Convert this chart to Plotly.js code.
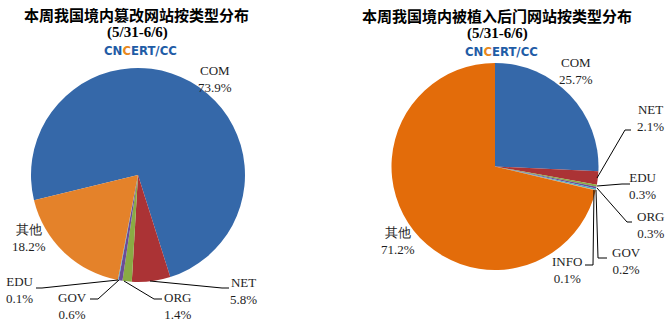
<!DOCTYPE html>
<html>
<head>
<meta charset="utf-8">
<script src="https://cdn.plot.ly/plotly-3.0.1.min.js"></script>
<style>html,body{margin:0;padding:0;background:#fff;}#chart{width:671px;height:325px;}</style>
</head>
<body>
<div id="chart"></div>
<script>
// ---- data ----
var leftTitle = "本周我国境内篡改网站按类型分布";
var rightTitle = "本周我国境内被植入后门网站按类型分布";
var period = "(5/31-6/6)";
var leftLabels = ["COM", "NET", "ORG", "GOV", "EDU", "其他"];
var leftValues = [73.9, 5.8, 1.4, 0.6, 0.1, 18.2];
var rightLabels = ["COM", "NET", "EDU", "ORG", "GOV", "INFO", "其他"];
var rightValues = [25.7, 2.1, 0.3, 0.3, 0.2, 0.1, 71.2];

// ---- styles / layout positions ----
var W = 671, H = 325;
function px(x){ return x / W; }
function py(y){ return 1 - y / H; }
var leftColors = ["#3568a9", "#ab3335", "#8aab44", "#6b4c98", "#4bacc6", "#e4822a"];
var rightColors = ["#3568a9", "#ab3335", "#8aab44", "#6b4c98", "#4bacc6", "#f79646", "#e36c0a"];
// label centres (pixels)
var leftLabelPos = [[215,79],[243,291],[177,306],[72,306],[20,290],[29,238]];
var rightLabelPos = [[576,71],[650,118],[643,186],[650,225],[626,261],[567,270],[398,241]];
// leader lines (pixels)
var leftLines = [
  null,
  [[150,281],[222,288],[229,288]],
  [[124,281],[154,299],[162,299]],
  [[119,280],[98,299],[90,299]],
  [[118,280],[42,288],[36,288]],
  null
];
var rightLines = [
  null,
  [[597,178],[625,130],[631,130]],
  [[597,186],[622,184],[630,184]],
  [[597,188],[627,222],[632,222]],
  [[596,190],[598,258],[607,258]],
  [[594,190],[593,265],[585,265]],
  null
];

var labelFont = {family: "Liberation Serif, Times New Roman, serif", size: 13, color: "#1e1e1e"};

function pie(labels, values, colors, cx, cy, r, rot){
  return {
    type: "pie", labels: labels, values: values, sort: false, direction: "clockwise",
    rotation: rot, textinfo: "none", hoverinfo: "label+percent", showlegend: false,
    marker: {colors: colors, line: {width: 0}},
    domain: {x: [px(cx - r), px(cx + r)], y: [py(cy + r), py(cy - r)]}
  };
}

var data = [
  pie(leftLabels, leftValues, leftColors, 138, 175, 107, -103.6),
  pie(rightLabels, rightValues, rightColors, 495, 166.5, 103.5, 0)
];

var annotations = [];
var shapes = [];
function addLabels(labels, values, pos, lines){
  for (var i = 0; i < labels.length; i++){
    annotations.push({
      xref: "paper", yref: "paper", x: px(pos[i][0]), y: py(pos[i][1]),
      xanchor: "center", yanchor: "middle", showarrow: false,
      text: labels[i] + "<br>" + values[i].toFixed(1) + "%", font: labelFont
    });
    if (lines[i]){
      var p = lines[i].map(function(pt, k){ return (k ? "L " : "M ") + px(pt[0]) + " " + py(pt[1]); }).join(" ");
      shapes.push({type: "path", xref: "paper", yref: "paper", path: p, line: {color: "#000", width: 1}});
    }
  }
}
addLabels(leftLabels, leftValues, leftLabelPos, leftLines);
addLabels(rightLabels, rightValues, rightLabelPos, rightLines);

function header(title, cx, ty){
  annotations.push({xref:"paper", yref:"paper", x: px(cx), y: py(ty), xanchor:"center", yanchor:"middle", showarrow:false,
    text: "<b>" + title + "</b>", font: {family: "Noto Sans CJK SC, sans-serif", size: 15, color: "#000"}});
  annotations.push({xref:"paper", yref:"paper", x: px(cx + 1), y: py(ty + 18), xanchor:"center", yanchor:"middle", showarrow:false,
    text: "<b>" + period + "</b>", font: {family: "Liberation Serif, serif", size: 15, color: "#000"}});
  annotations.push({xref:"paper", yref:"paper", x: px(cx + 4), y: py(ty + 36), xanchor:"center", yanchor:"middle", showarrow:false,
    text: "<b>CN<span style=\"color:#e8891e\">C</span>ERT/CC</b>", font: {family: "DejaVu Sans Condensed, Liberation Sans Narrow, sans-serif", size: 13, color: "#1f5ca6"}});
}
header(leftTitle, 136, 14);
header(rightTitle, 497, 15);

var layout = {
  width: W, height: H, margin: {l:0, r:0, t:0, b:0},
  paper_bgcolor: "#fff", plot_bgcolor: "#fff",
  annotations: annotations, shapes: shapes
};
Plotly.newPlot("chart", data, layout, {displayModeBar: false, staticPlot: true});
</script>
</body>
</html>
